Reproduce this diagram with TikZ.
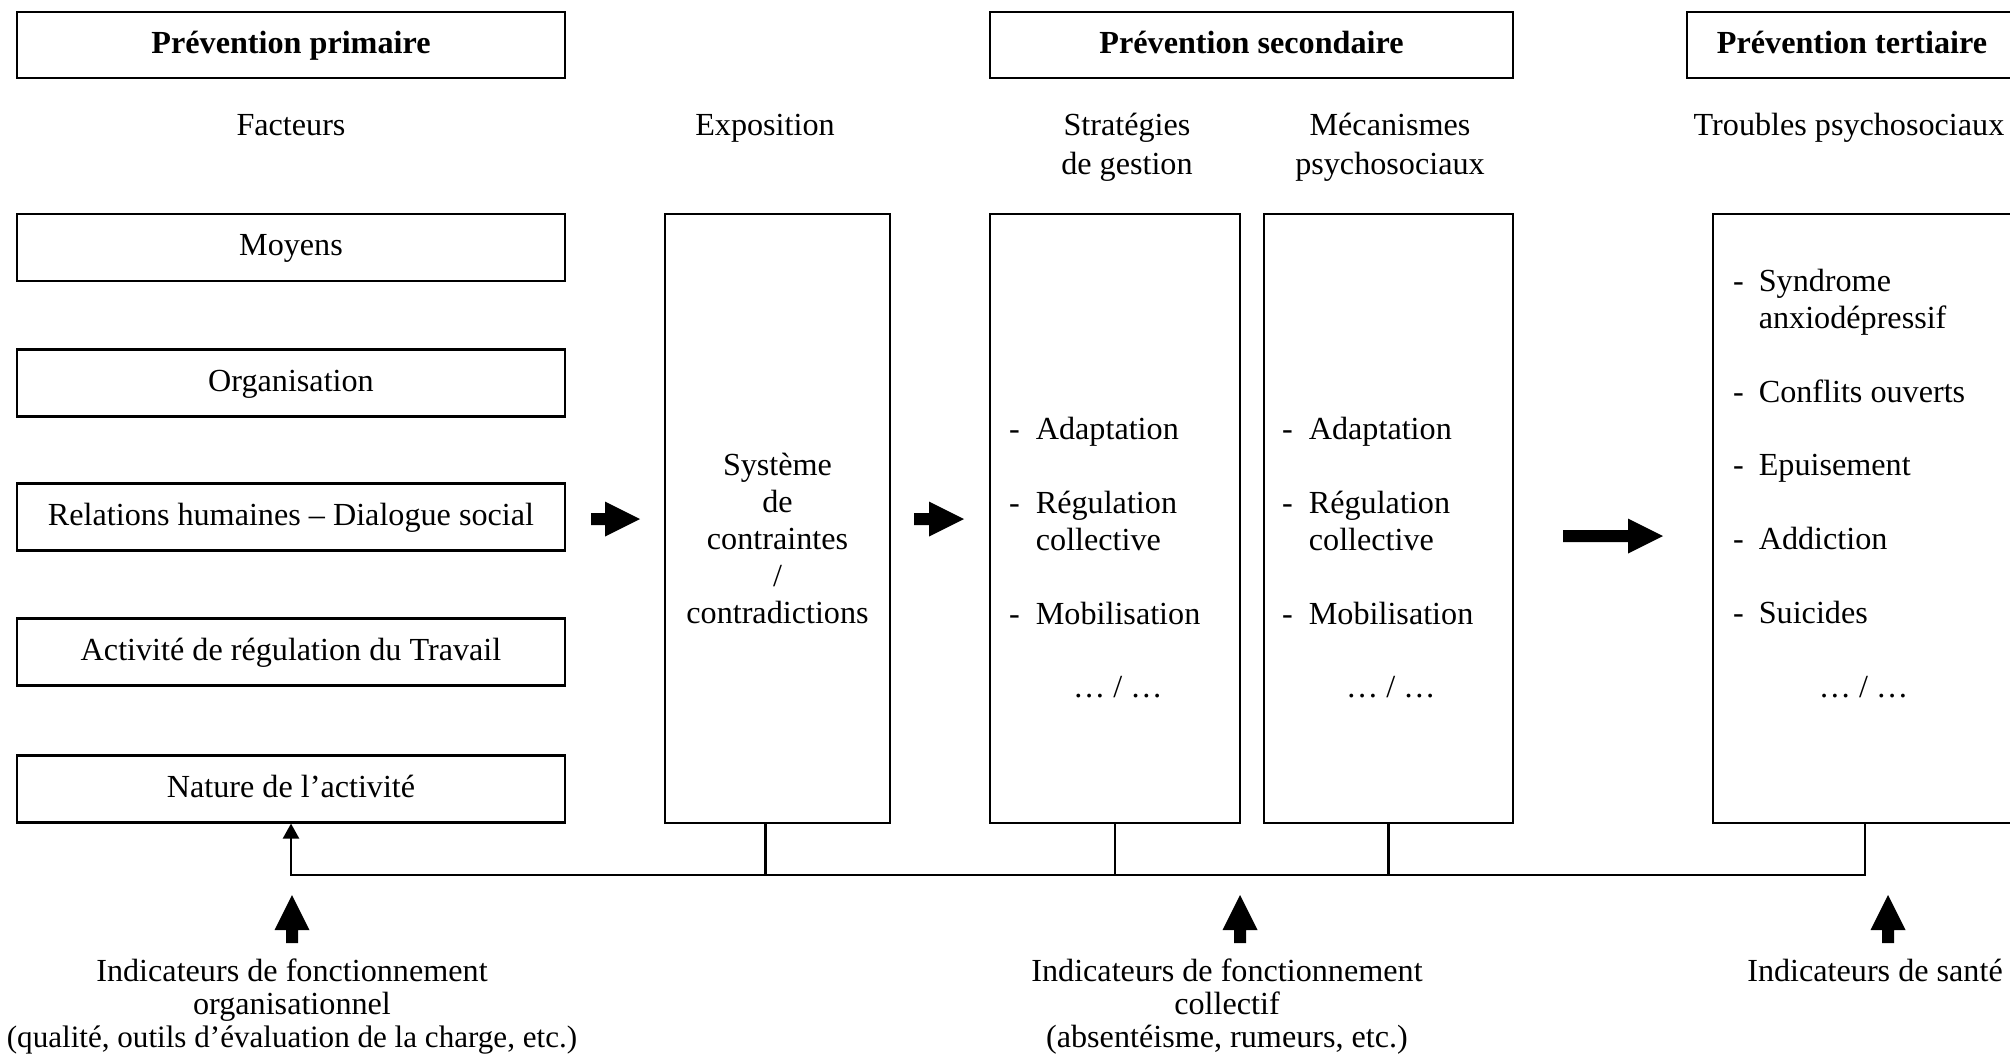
\documentclass[tikz,border=0pt]{standalone}
\usepackage{fontspec}
\setmainfont{Liberation Serif}
\usetikzlibrary{arrows.meta}

\newcommand{\px}{0.373pt}

\tikzset{
  cadre/.style 2 args={draw, minimum width=#1*\px, minimum height=#2*\px, inner sep=0pt,
    text height=9pt, text depth=2.7pt},
  titre/.style={font=\fontsize{12}{13.8}\selectfont\bfseries},
  texte/.style={inner sep=0pt, align=center},
  liste/.style={inner sep=0pt, anchor=base west},
  pics/fleche/.style={code={
    \fill (0,-6) -- (#1-35,-6) -- (#1-35,-17.5) -- (#1,0) -- (#1-35,17.5) -- (#1-35,6) -- (0,6) -- cycle;
  }},
}

\begin{document}
\begin{tikzpicture}[x=\px, y=-\px, line width=0.8pt,
    every node/.style={font=\fontsize{12}{13.8}\selectfont}]
    \useasboundingbox (0,0) rectangle (2010,1062);
    \clip (0,0) rectangle (2010,1062);

    % Niveaux de prévention
    \node[cadre={548}{66}, titre] (prim) at (291,45) {Prévention primaire};
    \node[cadre={523}{66}, titre] (sec) at (1251.5,45) {Prévention secondaire};
    \node[cadre={330}{66}, titre] (tert) at (1852,45) {Prévention tertiaire};

    % Titres des colonnes
    \node[texte] (facteurs) at (291,125.5) {Facteurs};
    \node[texte] (exposition) at (765,128) {Exposition};
    \node[texte, font=\fontsize{12}{14.4}\selectfont] (strategies) at (1127,147) {Stratégies\\de gestion};
    \node[texte, font=\fontsize{12}{14.4}\selectfont] (mecanismes) at (1390,147) {Mécanismes\\psychosociaux};
    \node[texte] (troubles) at (1849,128) {Troubles psychosociaux};

    % Facteurs
    \node[cadre={548}{67}] (moyens) at (291,247.5) {Moyens};
    \node[cadre={548}{67}] (organisation) at (291,383) {Organisation};
    \node[cadre={548}{67}] (relations) at (291,517) {Relations humaines – Dialogue social};
    \node[cadre={548}{67}] (activite) at (291,652) {Activité de régulation du Travail};
    \node[cadre={548}{67}] (nature) at (291,789) {Nature de l’activité};

    % Grandes colonnes
    \node[cadre={225}{609}] (expo) at (777.5,518.5) {};
    \node[cadre={250}{609}] (strat) at (1115,518.5) {};
    \node[cadre={249}{609}] (meca) at (1388.5,518.5) {};
    \node[cadre={304}{609}] (troub) at (1865,518.5) {};

    % Contenus
    \node[texte] (expo-c) at (777.5,538) {Système\\de\\contraintes\\/\\contradictions};
    \node[liste] (strat-c) at (1008,439) {\begin{tabular}[t]{@{}l@{\hspace{6pt}}l@{}}
      - & Adaptation\\ \\
      - & Régulation\\ & collective\\ \\
      - & Mobilisation\\ \\
      \multicolumn{2}{@{}l@{}}{\hspace{23.9pt}… / …}
    \end{tabular}};
    \node[liste] (meca-c) at (1281,439) {\begin{tabular}[t]{@{}l@{\hspace{6pt}}l@{}}
      - & Adaptation\\ \\
      - & Régulation\\ & collective\\ \\
      - & Mobilisation\\ \\
      \multicolumn{2}{@{}l@{}}{\hspace{23.9pt}… / …}
    \end{tabular}};
    \node[liste] (troub-c) at (1732,291) {\begin{tabular}[t]{@{}l@{\hspace{5.6pt}}l@{}}
      - & Syndrome\\ & anxiodépressif\\ \\
      - & Conflits ouverts\\ \\
      - & Epuisement\\ \\
      - & Addiction\\ \\
      - & Suicides\\ \\
      \multicolumn{2}{@{}l@{}}{\hspace{32pt}… / …}
    \end{tabular}};

    % Flèches horizontales
    \pic at (591,519) {fleche=49};
    \pic at (914,519) {fleche=50};
    \pic at (1563,536) {fleche=100};

    % Boucle de retour
    \coordinate (retour) at (0,875);
    \draw[-{Triangle[width=6pt,length=5.6pt]}] (troub.south) -- (troub.south |- retour) -| (nature.south);
    \draw ([xshift=-12*\px]expo.south) -- ([xshift=-12*\px]expo.south |- retour);
    \draw (strat.south) -- (strat.south |- retour);
    \draw (meca.south) -- (meca.south |- retour);

    % Indicateurs
    \pic[rotate=90] at (292,943) {fleche=48};
    \pic[rotate=90] at (1240,943) {fleche=48};
    \pic[rotate=90] at (1888,943) {fleche=48};
    \node[texte, font=\fontsize{12}{12.2}\selectfont, anchor=north] (ind-org) at (292,958)
      {Indicateurs de fonctionnement\\organisationnel\\{\fontsize{11.6}{12.2}\selectfont(qualité, outils d’évaluation de la charge, etc.)}};
    \node[texte, font=\fontsize{12}{12.2}\selectfont, anchor=north] (ind-coll) at (1227,958)
      {Indicateurs de fonctionnement\\collectif\\(absentéisme, rumeurs, etc.)};
    \node[texte, anchor=north] (ind-sante) at (1875,958) {Indicateurs de santé};
\end{tikzpicture}
\end{document}
